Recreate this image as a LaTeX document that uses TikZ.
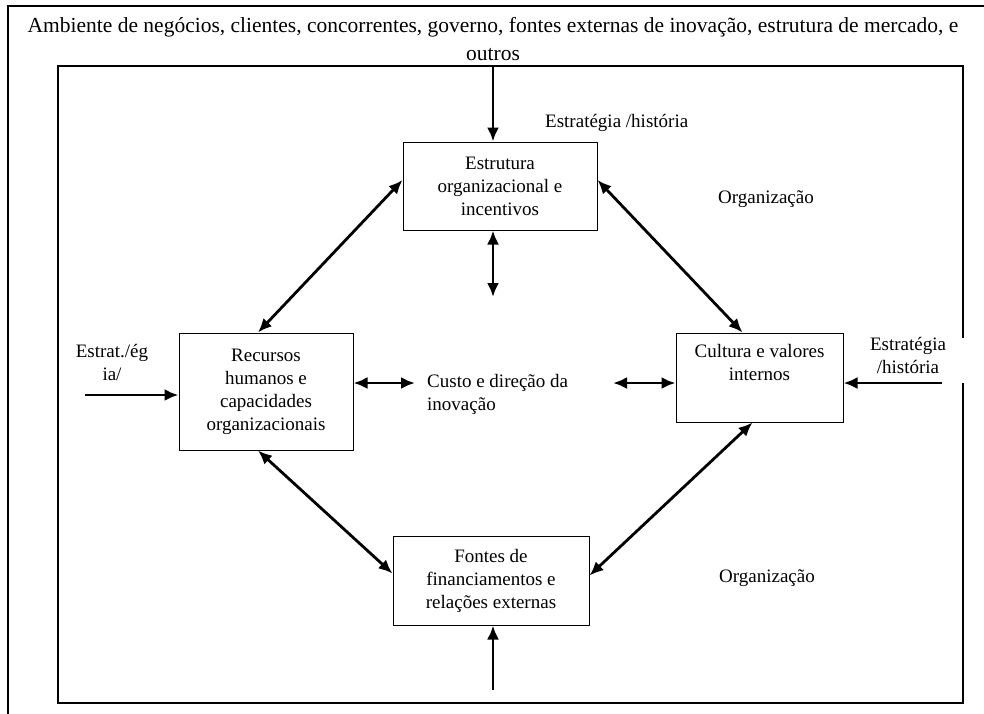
\documentclass[tikz,border=0pt]{standalone}
\usepackage{fontspec}
\setmainfont{Liberation Serif}
\usetikzlibrary{arrows.meta}

\begin{document}
\begin{tikzpicture}[x=1pt,y=-1pt,
  caixa/.style={draw, line width=1pt, align=center, inner sep=0pt, font=\fontsize{19}{23}\selectfont},
  rotulo/.style={align=center, inner sep=0pt, font=\fontsize{19}{23}\selectfont},
  seta/.style={line width=2.8pt, -{Latex[length=14pt,width=12pt]}},
  setadupla/.style={line width=2.8pt, {Latex[length=14pt,width=12pt]}-{Latex[length=14pt,width=12pt]}}]
\clip (0,0) rectangle (984,713);
% molduras
\draw[line width=1.5pt] (8,6) rectangle (1000,730);
\draw[line width=1.5pt] (963,338) -- (963,66) -- (58,66) -- (58,703) -- (963,703) -- (963,383);
% caixas
\node[caixa, minimum width=194pt, minimum height=88pt] (estrutura) at (500,186) {Estrutura\\organizacional e\\incentivos};
\node[caixa, minimum width=174pt, minimum height=117pt] (recursos) at (266,391.5) {Recursos\\humanos e\\capacidades\\organizacionais};
\node[caixa, minimum width=167pt, minimum height=89pt] (cultura) at (759.5,377.5) {Cultura e valores\\internos\\\strut};
\node[caixa, minimum width=196pt, minimum height=89pt] (fontes) at (491,580.5) {Fontes de\\financiamentos e\\relações externas};
% textos
\node[rotulo, font=\fontsize{21.5}{28}\selectfont] (ambiente) at (493,39) {Ambiente de negócios, clientes, concorrentes, governo, fontes externas de inovação, estrutura de mercado, e\\outros};
\node[rotulo, anchor=west] (esthist) at (545,123) {Estratégia /história};
\node[rotulo] (org1) at (766,199) {Organização};
\node[rotulo] (org2) at (767,578) {Organização};
\node[rotulo, align=left, anchor=west] (custo) at (427,394) {Custo e direção da\\inovação};
\node[rotulo] (estrat) at (112,362) {Estrat./ég\\ia/};
\node[rotulo] (esthist2) at (908,355) {Estratégia\\/história};
% setas
\coordinate (topo) at (493,66);
\coordinate (meio) at (493,297);
\coordinate (base) at (493,690);
\coordinate (entesq) at (85,395);
\coordinate (entdir) at (942,383);
\coordinate (custoesq) at (415,383);
\coordinate (custodir) at (613,383);
\draw[seta] (topo) -- (topo |- estrutura.north);
\draw[setadupla] (meio |- estrutura.south) -- (meio);
\draw[seta] (base) -- (base |- fontes.south);
\draw[seta] (entesq) -- (entesq -| recursos.west);
\draw[seta] (entdir) -- (entdir -| cultura.east);
\draw[setadupla] (custoesq -| recursos.east) -- (custoesq);
\draw[setadupla] (custodir) -- (custodir -| cultura.west);
\draw[setadupla] ([yshift=6pt]estrutura.west) -- ([xshift=-8pt]recursos.north);
\draw[setadupla] ([yshift=6pt]estrutura.east) -- ([xshift=-17pt]cultura.north);
\draw[setadupla] ([xshift=-8pt]recursos.south) -- ([yshift=7pt]fontes.west);
\draw[setadupla] ([xshift=-7pt]cultura.south) -- ([yshift=5pt]fontes.east);
\end{tikzpicture}
\end{document}
